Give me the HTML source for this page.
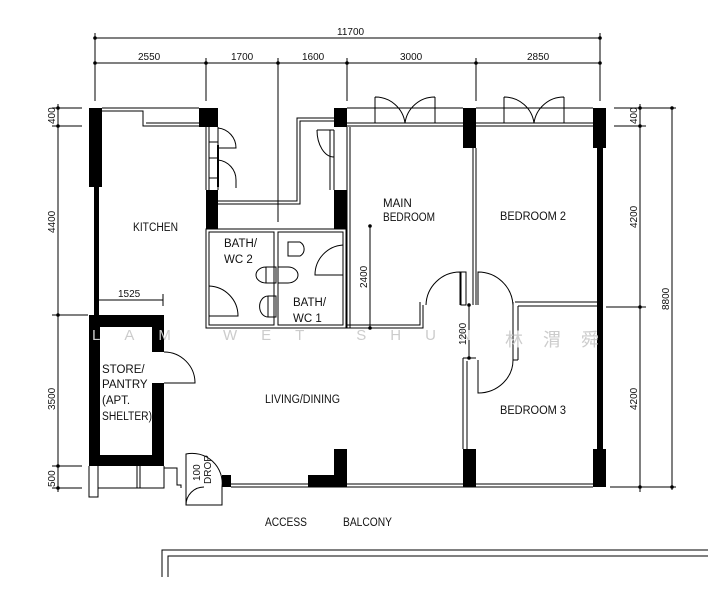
<!DOCTYPE html>
<html><head><meta charset="utf-8"><style>
html,body{margin:0;padding:0;background:#fff;}
svg{display:block;}
text{font-family:"Liberation Sans Narrow","Liberation Sans",sans-serif;font-size:11.5px;fill:#111;}
.d{font-size:10px;}
</style></head><body>
<svg width="708" height="600" viewBox="0 0 708 600" xmlns="http://www.w3.org/2000/svg">
<g stroke="#000" stroke-width="1" fill="none">
<line x1="95" y1="38" x2="600" y2="38"/>
<line x1="95" y1="63" x2="600" y2="63"/>
<line x1="95" y1="33" x2="95" y2="101"/>
<line x1="600" y1="33" x2="600" y2="101"/>
<line x1="206" y1="58" x2="206" y2="101"/>
<line x1="278" y1="58" x2="278" y2="222"/>
<line x1="347" y1="58" x2="347" y2="101"/>
<line x1="476" y1="58" x2="476" y2="101"/>
<line x1="58" y1="104" x2="58" y2="492"/>
<line x1="52" y1="108" x2="82" y2="108"/>
<line x1="52" y1="126" x2="82" y2="126"/>
<line x1="52" y1="315" x2="88" y2="315"/>
<line x1="52" y1="466" x2="82" y2="466"/>
<line x1="52" y1="488" x2="82" y2="488"/>
<line x1="640" y1="104" x2="640" y2="492"/>
<line x1="672" y1="108" x2="672" y2="490"/>
<line x1="614" y1="108" x2="676" y2="108"/>
<line x1="614" y1="126" x2="646" y2="126"/>
<line x1="606" y1="307" x2="646" y2="307"/>
<line x1="610" y1="487" x2="676" y2="487"/>
<line x1="99" y1="300" x2="163" y2="300"/>
<line x1="163" y1="294" x2="163" y2="306"/>
<line x1="370" y1="226" x2="370" y2="328"/>
<line x1="469" y1="305" x2="469" y2="358"/>
</g>
<g fill="#000">
<circle cx="95" cy="38" r="1.8"/><circle cx="600" cy="38" r="1.8"/>
<circle cx="95" cy="63" r="1.8"/><circle cx="206" cy="63" r="1.8"/><circle cx="278" cy="63" r="1.8"/><circle cx="347" cy="63" r="1.8"/><circle cx="476" cy="63" r="1.8"/><circle cx="600" cy="63" r="1.8"/>
<circle cx="58" cy="108" r="1.8"/><circle cx="58" cy="126" r="1.8"/><circle cx="58" cy="315" r="1.8"/><circle cx="58" cy="466" r="1.8"/><circle cx="58" cy="488" r="1.8"/>
<circle cx="640" cy="108" r="1.8"/><circle cx="640" cy="126" r="1.8"/><circle cx="640" cy="307" r="1.8"/><circle cx="640" cy="487" r="1.8"/>
<circle cx="672" cy="108" r="1.8"/><circle cx="672" cy="487" r="1.8"/>
<circle cx="370" cy="226" r="1.8"/><circle cx="370" cy="328" r="1.8"/>
<circle cx="469" cy="305" r="1.8"/><circle cx="469" cy="358" r="1.8"/>
<rect x="89" y="108" width="13" height="79"/>
<rect x="94" y="187" width="5" height="131"/>
<rect x="199" y="108" width="19" height="19"/>
<rect x="206" y="190" width="12" height="39"/>
<rect x="334" y="108" width="13" height="19"/>
<rect x="334" y="190" width="13" height="39"/>
<rect x="463" y="108" width="13" height="40"/>
<rect x="593" y="108" width="13" height="40"/>
<rect x="597" y="148" width="6" height="302"/>
<rect x="593" y="449" width="13" height="38"/>
<rect x="463" y="449" width="13" height="38"/>
<rect x="334" y="449" width="13" height="38"/>
<rect x="308" y="475" width="39" height="12"/>
<rect x="222" y="475" width="9" height="12"/>
<path d="M89 315H164V352H152V327H100V455H152V383H164V466H89Z"/>
<rect x="94" y="300" width="5" height="16"/>
<rect x="217" y="145" width="2" height="42"/>
</g>
<g stroke="#000" stroke-width="1" fill="none">
<path d="M102 108H199M102 111H143V126H199M146 123H199"/>
<path d="M206 127V190M209 127V190M218 127V190"/>
<path d="M209 142H218M209 158H218M209 178H218"/>
<path d="M218 128A20 20 0 0 1 236 148H218M218 160A20 20 0 0 1 236 180V188"/>
<path d="M218 204H300V121H334M218 201H297V118H334"/>
<path d="M330 130V190M334 130V190"/>
<path d="M317 130A17 27 0 0 0 334 157"/>
<line x1="317" y1="130" x2="334" y2="130"/>
<path d="M347 108H463M347 126H463M476 108H593M476 126H593M347 123H463M476 123H593"/>
<path d="M375 97V123M375 97A30 30 0 0 1 405 123M435 97V123M435 97A30 30 0 0 0 405 123"/>
<path d="M504 97V123M504 97A30 30 0 0 1 534 123M564 97V123M564 97A30 30 0 0 0 534 123"/>
<rect x="206" y="229" width="140" height="99"/>
<rect x="209" y="232" width="65" height="93"/>
<rect x="278" y="232" width="65" height="93"/>
<path d="M209 286A30 30 0 0 1 238 316H209"/>
<path d="M343 245A30 30 0 0 0 315 275H343"/>
<path d="M300 242H288V256H300A8 8 0 0 0 300 242Z"/>
<path d="M276 267H266V283H276ZM266 267A10 8 0 0 0 266 283"/>
<path d="M276 296H268V317H276ZM268 296A8 10 0 0 0 268 317"/>
<path d="M278 267H288A10 8 0 0 1 288 283H278"/>
<path d="M347 127V328M350 127V328"/>
<path d="M346 328H423V305M346 325H420V302"/>
<path d="M426 305A34 34 0 0 1 460 272V305"/>
<path d="M461 272V305H466V272ZM473 148V305M476 148V305"/>
<path d="M478 305V272A35 35 0 0 1 513 305"/>
<path d="M515 302H597M518 306H597M513 302V360M518 306V360M513 360H518"/>
<path d="M478 360V393A35 33 0 0 0 513 360"/>
<path d="M463 358H476M463 358V449M467 361V449"/>
<path d="M164 352A31 31 0 0 1 195 383H164"/>
<path d="M231 484H593M231 487H593"/>
<path d="M89 466V497H98V466M98 488H164V466M137 466V488M140 466V488M164 468H177V485H181V488"/>
<path d="M186 454A30 30 0 0 1 222 487V505H186Z"/>
<path d="M204 487A18 18 0 0 0 186 505"/>
<path d="M162 577V550H708M168 577V556H708"/>
</g>
<text x="92" y="340" style="font-size:15px;fill:#ccc;letter-spacing:24px">LAM WET SHUN</text>
<text x="505" y="346" style="font-size:18px;fill:#ccc;font-family:'Noto Sans CJK SC',sans-serif;letter-spacing:20px">林渭舜</text>
<text x="337" y="35" class="d">11700</text>
<text x="138" y="60" class="d">2550</text>
<text x="231" y="60" class="d">1700</text>
<text x="302" y="60" class="d">1600</text>
<text x="400" y="60" class="d">3000</text>
<text x="527" y="60" class="d">2850</text>
<text x="118" y="297" class="d">1525</text>
<text transform="translate(55,124) rotate(-90)" class="d">400</text>
<text transform="translate(55,233) rotate(-90)" class="d">4400</text>
<text transform="translate(55,410) rotate(-90)" class="d">3500</text>
<text transform="translate(55,487) rotate(-90)" class="d">500</text>
<text transform="translate(637,124) rotate(-90)" class="d">400</text>
<text transform="translate(637,228) rotate(-90)" class="d">4200</text>
<text transform="translate(637,410) rotate(-90)" class="d">4200</text>
<text transform="translate(669,310) rotate(-90)" class="d">8800</text>
<text transform="translate(367,288) rotate(-90)" class="d">2400</text>
<text transform="translate(466,345) rotate(-90)" class="d">1200</text>
<text transform="translate(200,481) rotate(-90)" class="d">100</text>
<text transform="translate(211,484) rotate(-90)" class="d">DROP</text>
<text x="133" y="231" textLength="45" lengthAdjust="spacingAndGlyphs">KITCHEN</text>
<text x="224" y="247">BATH/</text>
<text x="224" y="263">WC  2</text>
<text x="293" y="306">BATH/</text>
<text x="293" y="322">WC  1</text>
<text x="383" y="207">MAIN</text>
<text x="383" y="221" textLength="52" lengthAdjust="spacingAndGlyphs">BEDROOM</text>
<text x="500" y="220" textLength="66" lengthAdjust="spacingAndGlyphs">BEDROOM  2</text>
<text x="500" y="414" textLength="66" lengthAdjust="spacingAndGlyphs">BEDROOM  3</text>
<text x="265" y="403" textLength="75" lengthAdjust="spacingAndGlyphs">LIVING/DINING</text>
<text x="102" y="373">STORE/</text>
<text x="102" y="388">PANTRY</text>
<text x="102" y="404">(APT.</text>
<text x="102" y="420" textLength="50" lengthAdjust="spacingAndGlyphs">SHELTER)</text>
<text x="265" y="526" textLength="42" lengthAdjust="spacingAndGlyphs">ACCESS</text>
<text x="343" y="526" textLength="49" lengthAdjust="spacingAndGlyphs">BALCONY</text>
</svg>
</body></html>
